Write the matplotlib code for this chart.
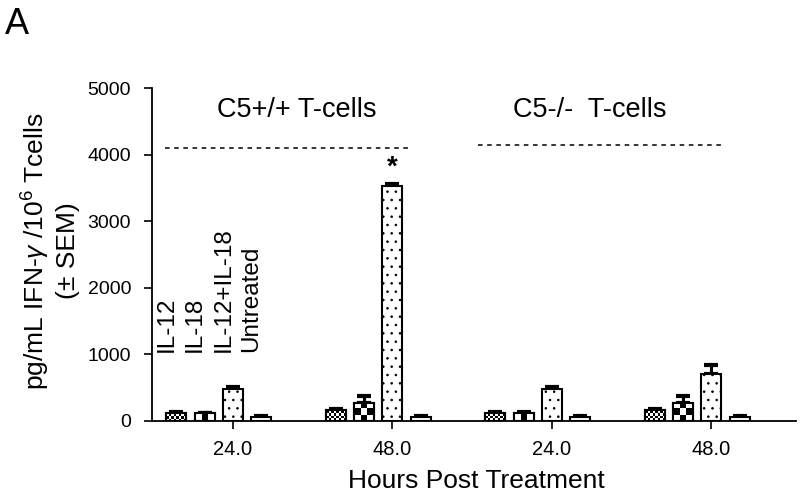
import numpy as np
import matplotlib
matplotlib.use('Agg')
from matplotlib import pyplot as plt

plt.rcParams['font.family'] = ['Liberation Sans', 'DejaVu Sans']
plt.rcParams['mathtext.fontset'] = 'custom'
plt.rcParams['mathtext.rm'] = 'Liberation Sans'
plt.rcParams['mathtext.it'] = 'Liberation Sans:italic'
plt.rcParams['hatch.linewidth'] = 0.6

# data
groups = ['24.0', '48.0', '24.0', '48.0']
treatments = ['IL-12', 'IL-18', 'IL-12+IL-18', 'Untreated']
il12 = [120, 170, 125, 170]
il12_err = [10, 10, 10, 10]
il18 = [115, 270, 125, 270]
il18_err = [10, 110, 10, 110]
combo = [480, 3530, 480, 700]
combo_err = [25, 30, 30, 140]
untreated = [65, 65, 65, 65]
untreated_err = [15, 10, 10, 10]

values = [il12, il18, combo, untreated]
errors = [il12_err, il18_err, combo_err, untreated_err]
offsets = [-2, -1, 0, 1]
step = 0.177
width = 0.125

fig = plt.figure(figsize=(8, 4.95), dpi=100)
ax = fig.add_axes([0.19, 0.1495, 0.805, 0.6725])
ax.set_xlim(-0.507, 3.53)
ax.set_ylim(0, 5000)

x = np.arange(len(groups))
bars = []
for vals, errs, off in zip(values, errors, offsets):
    xs = x + off * step
    b = ax.bar(xs, vals, width, color='white', edgecolor='black', linewidth=1.5, zorder=2)
    ax.errorbar(xs, vals, yerr=[np.zeros(len(errs)), errs], fmt='none', ecolor='black',
                elinewidth=2.2, capsize=5, capthick=3, zorder=1)
    bars.append(b)

# dotted fill for the combined treatment
for p in bars[2]:
    p.set_hatch('..')

# checker fills drawn as small images clipped to the bars
fig.canvas.draw()
px_x = ax.transData.transform((1, 0))[0] - ax.transData.transform((0, 0))[0]
px_y = (ax.transData.transform((0, 1000))[1] - ax.transData.transform((0, 0))[1]) / 1000.0

def checker(bar, cell):
    x0, y0 = bar.get_x(), bar.get_y()
    w, h = bar.get_width(), bar.get_height()
    cx, cy = cell / px_x, cell / px_y
    nx = int(np.ceil(w / cx)) + 1
    ny = int(np.ceil(h / cy)) + 1
    arr = (np.add.outer(np.arange(ny), np.arange(nx)) % 2).astype(float)
    im = ax.imshow(arr, cmap='gray_r', extent=(x0, x0 + nx * cx, y0, y0 + ny * cy),
                   origin='lower', interpolation='nearest', aspect='auto', zorder=2.1)
    im.set_clip_path(bar)

for p in bars[0]:
    checker(p, 2.5)
for p in bars[1]:
    checker(p, 6.5)

for vals, off in zip([il12, il18], offsets[:2]):
    ax.bar(x + off * step, vals, width, fill=False, edgecolor='black', linewidth=1.5, zorder=2.2)

ax.set_xlim(-0.507, 3.53)
ax.set_ylim(0, 5000)

# treatment labels above first group
for lab, off in zip(treatments, offsets):
    ax.text(off * step - 0.06, 1035, lab, rotation=90, ha='center', va='bottom', fontsize=17.5)

# cell type annotations
ax.plot([-0.426, 1.11], [4100, 4100], color='black', lw=1.1, ls=(0, (3, 3)))
ax.plot([1.535, 3.07], [4150, 4150], color='black', lw=1.1, ls=(0, (3, 3)))
ax.text(0.40, 4670, 'C5+/+ T-cells', ha='center', va='center', fontsize=19.5)
ax.text(2.24, 4670, 'C5-/-  T-cells', ha='center', va='center', fontsize=19.5)
ax.text(1, 3800, '*', ha='center', va='center', fontsize=20, fontweight='bold')

ax.set_xticks(x)
ax.set_xticklabels(groups)
ax.set_yticks(np.arange(0, 5001, 1000))
ax.tick_params(axis='both', length=6, width=1.2, direction='out', colors='black')
ax.tick_params(axis='x', labelsize=14.5, pad=8)
ax.tick_params(axis='y', labelsize=14, pad=9)
for s in ['top', 'right']:
    ax.spines[s].set_visible(False)
for s in ['left', 'bottom']:
    ax.spines[s].set_linewidth(1.3)

fig.text(476 / 800, 1 - 481 / 495, 'Hours Post Treatment', ha='center', va='center', fontsize=19)
fig.text(50 / 800, 1 - 251 / 495, 'pg/mL IFN-$\\gamma$ /10$^{6}$ Tcells\n(\u00b1 SEM)',
         rotation=90, ha='center', va='center', fontsize=19, multialignment='center')

fig.text(0.006, 0.985, 'A', ha='left', va='top', fontsize=26)

plt.savefig('out.png', dpi=100)
